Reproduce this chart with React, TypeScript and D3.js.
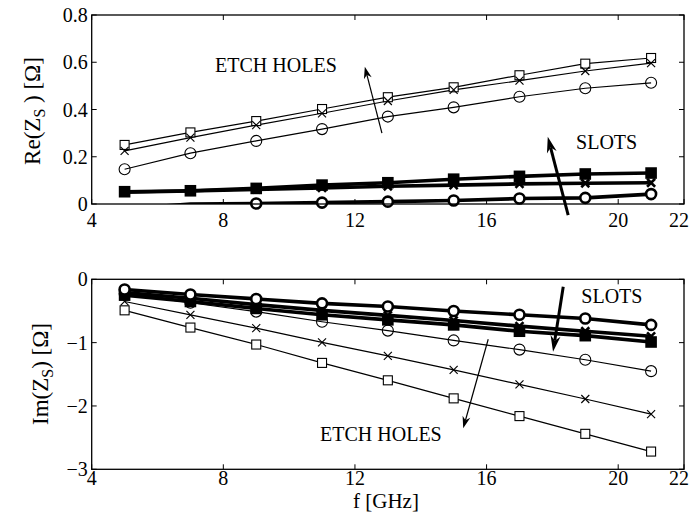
import React from "react";
import * as d3 from "d3";

const freqs = [5, 7, 9, 11, 13, 15, 17, 19, 21];
const xTicks = [4, 8, 12, 16, 20, 22];
const reTicks = [0, 0.2, 0.4, 0.6, 0.8];
const imTicks = [-3, -2, -1, 0];

// Re(Zs) – etch holes (thin)
const reHoleSquare = [0.25, 0.303, 0.351, 0.402, 0.452, 0.494, 0.545, 0.594, 0.618];
const reHoleCross = [0.225, 0.281, 0.334, 0.384, 0.436, 0.483, 0.522, 0.563, 0.596];
const reHoleCircle = [0.147, 0.215, 0.267, 0.317, 0.37, 0.409, 0.454, 0.49, 0.513];
// Re(Zs) – slots (thick)
const reSlotSquare = [0.052, 0.056, 0.066, 0.08, 0.09, 0.105, 0.117, 0.127, 0.131];
const reSlotCross = [0.05, 0.055, 0.062, 0.068, 0.075, 0.08, 0.085, 0.088, 0.09];
const reSlotCircle = [-0.02, -0.0005, 0.002, 0.006, 0.01, 0.015, 0.023, 0.026, 0.042];

// Im(Zs) – etch holes (thin)
const imHoleSquare = [-0.49, -0.762, -1.03, -1.32, -1.595, -1.88, -2.16, -2.44, -2.72];
const imHoleCross = [-0.35, -0.562, -0.772, -0.995, -1.21, -1.43, -1.66, -1.89, -2.13];
const imHoleCircle = [-0.23, -0.37, -0.51, -0.67, -0.81, -0.965, -1.11, -1.27, -1.45];
// Im(Zs) – slots (thick)
const imSlotSquare = [-0.25, -0.35, -0.46, -0.56, -0.64, -0.72, -0.82, -0.89, -0.99];
const imSlotCross = [-0.21, -0.3, -0.4, -0.49, -0.57, -0.65, -0.74, -0.82, -0.9];
const imSlotCircle = [-0.16, -0.24, -0.31, -0.38, -0.43, -0.5, -0.56, -0.62, -0.72];

const FONT = "'Liberation Serif', 'DejaVu Serif', serif";

type Marker = "square" | "cross" | "circle";
interface Series { values: number[]; marker: Marker; thick: boolean }

const topSeries: Series[] = [
  { values: reHoleSquare, marker: "square", thick: false },
  { values: reHoleCross, marker: "cross", thick: false },
  { values: reHoleCircle, marker: "circle", thick: false },
  { values: reSlotCircle, marker: "circle", thick: true },
  { values: reSlotCross, marker: "cross", thick: true },
  { values: reSlotSquare, marker: "square", thick: true },
];
const botSeries: Series[] = [
  { values: imHoleSquare, marker: "square", thick: false },
  { values: imHoleCross, marker: "cross", thick: false },
  { values: imHoleCircle, marker: "circle", thick: false },
  { values: imSlotSquare, marker: "square", thick: true },
  { values: imSlotCross, marker: "cross", thick: true },
  { values: imSlotCircle, marker: "circle", thick: true },
];

const X0 = 91.7, X1 = 684;
const x = d3.scaleLinear().domain([4, 22]).range([X0, X1]);
const yTop = d3.scaleLinear().domain([0, 0.8]).range([204, 15]);
const yBot = d3.scaleLinear().domain([-3, 0]).range([469.3, 279.3]);

function MarkerShape({ m, cx, cy, thick }: { m: Marker; cx: number; cy: number; thick: boolean }) {
  const sw = thick ? 2.6 : 1.1;
  if (m === "square") {
    const s = 9;
    return <rect x={cx - s / 2} y={cy - s / 2} width={s} height={s} fill={thick ? "#000" : "#fff"} stroke="#000" strokeWidth={sw} />;
  }
  if (m === "circle") {
    return <circle cx={cx} cy={cy} r={thick ? 5 : 5.5} fill="#fff" fillOpacity={thick ? 1 : 0} stroke="#000" strokeWidth={sw} />;
  }
  const s = 4;
  return (
    <g stroke="#000" strokeWidth={sw}>
      <line x1={cx - s} y1={cy - s} x2={cx + s} y2={cy + s} />
      <line x1={cx - s} y1={cy + s} x2={cx + s} y2={cy - s} />
    </g>
  );
}

function Arrow({ x1, y1, x2, y2, width, head, headW }: { x1: number; y1: number; x2: number; y2: number; width: number; head: number; headW: number }) {
  const dx = x2 - x1, dy = y2 - y1;
  const L = Math.hypot(dx, dy);
  const ux = dx / L, uy = dy / L;
  const bx = x2 - ux * head, by = y2 - uy * head;
  const px = -uy, py = ux;
  const pts = `${x2},${y2} ${bx + px * headW / 2},${by + py * headW / 2} ${x2 - ux * head * 0.7},${y2 - uy * head * 0.7} ${bx - px * headW / 2},${by - py * headW / 2}`;
  return (
    <g>
      <line x1={x1} y1={y1} x2={x2 - ux * head * 0.7} y2={y2 - uy * head * 0.7} stroke="#000" strokeWidth={width} />
      <polygon points={pts} fill="#000" />
    </g>
  );
}

function Panel({ y, series, ticks, fmt, clipId, domain, labelGap }: { y: d3.ScaleLinear<number, number>; series: Series[]; ticks: number[]; fmt: (v: number) => string; clipId: string; domain: [number, number]; labelGap: number }) {
  const [yb, yt] = [y.range()[0], y.range()[1]];
  const line = d3.line<number>().x((_, i) => x(freqs[i])).y((v) => y(v));
  const tl = 5;
  return (
    <g>
      <defs>
        <clipPath id={clipId}>
          <rect x={X0} y={yt} width={X1 - X0} height={yb - yt} />
        </clipPath>
      </defs>
      <g clipPath={`url(#${clipId})`}>
        {series.map((s, k) => (
          <path key={k} d={line(s.values) || ""} fill="none" stroke="#000" strokeWidth={s.thick ? 3.6 : 1.2} />
        ))}
      </g>
      {series.map((s, k) => (
        <g key={k}>
          {s.values.map((v, i) =>
            v >= domain[0] && v <= domain[1] ? (
              <MarkerShape key={i} m={s.marker} cx={x(freqs[i])} cy={y(v)} thick={s.thick} />
            ) : null
          )}
        </g>
      ))}
      <rect x={X0} y={yt} width={X1 - X0} height={yb - yt} fill="none" stroke="#000" strokeWidth={1.3} />
      {xTicks.map((t) => (
        <g key={t}>
          <line x1={x(t)} x2={x(t)} y1={yb} y2={yb - tl} stroke="#000" strokeWidth={1} />
          <line x1={x(t)} x2={x(t)} y1={yt} y2={yt + tl} stroke="#000" strokeWidth={1} />
          <text x={Math.min(x(t), 679)} y={yb + labelGap} textAnchor="middle" fontFamily={FONT} fontSize={20}>{t}</text>
        </g>
      ))}
      {ticks.map((t) => (
        <g key={t}>
          <line x1={X0} x2={X0 + tl} y1={y(t)} y2={y(t)} stroke="#000" strokeWidth={1} />
          <line x1={X1} x2={X1 - tl} y1={y(t)} y2={y(t)} stroke="#000" strokeWidth={1} />
          <text x={X0 - 4} y={y(t) + 7} textAnchor="end" fontFamily={FONT} fontSize={20}>{fmt(t)}</text>
        </g>
      ))}
    </g>
  );
}

export default function App() {
  const fmtRe = (v: number) => (v === 0 ? "0" : d3.format(".1f")(v));
  const fmtIm = (v: number) => (v === 0 ? "0" : "\u2212" + Math.abs(v));
  return (
    <svg width={692} height={517} style={{ position: "absolute", left: 0, top: 0, background: "#fff" }}>
      <rect width={692} height={517} fill="#fff" />
      <Panel y={yTop} series={topSeries} ticks={reTicks} fmt={fmtRe} clipId="clipTop" domain={[0, 0.8]} labelGap={23} />
      <Panel y={yBot} series={botSeries} ticks={imTicks} fmt={fmtIm} clipId="clipBot" domain={[-3, 0]} labelGap={16} />

      {/* top annotations */}
      <text x={x(7.75)} y={yTop(0.559)} fontFamily={FONT} fontSize={20}>ETCH HOLES</text>
      <Arrow x1={x(12.82)} y1={yTop(0.3)} x2={x(12.3)} y2={yTop(0.581)} width={1.2} head={12} headW={8} />
      <text x={x(18.72)} y={yTop(0.233)} fontFamily={FONT} fontSize={20}>SLOTS</text>
      <Arrow x1={x(18.48)} y1={yTop(-0.047)} x2={x(17.86)} y2={yTop(0.285)} width={3} head={16} headW={10} />

      {/* bottom annotations */}
      <text x={x(18.88)} y={yBot(-0.374)} fontFamily={FONT} fontSize={20}>SLOTS</text>
      <Arrow x1={x(18.33)} y1={yBot(-0.117)} x2={x(18.02)} y2={yBot(-1.143)} width={3} head={16} headW={10} />
      <text x={x(10.94)} y={yBot(-2.553)} fontFamily={FONT} fontSize={20}>ETCH HOLES</text>
      <Arrow x1={x(16.05)} y1={yBot(-0.947)} x2={x(15.29)} y2={yBot(-2.353)} width={1.2} head={12} headW={8} />

      {/* axis labels */}
      <text transform="translate(40,111) rotate(-90)" textAnchor="middle" fontFamily={FONT} fontSize={23}>
        Re(Z<tspan fontSize={16} dy={5}>S</tspan><tspan dy={-5}> ) [Ω]</tspan>
      </text>
      <text transform="translate(48,374) rotate(-90)" textAnchor="middle" fontFamily={FONT} fontSize={23}>
        Im(Z<tspan fontSize={16} dy={5}>S</tspan><tspan dy={-5}>)   [Ω]</tspan>
      </text>
      <text x={386} y={508} textAnchor="middle" fontFamily={FONT} fontSize={21}>f [GHz]</text>
    </svg>
  );
}
